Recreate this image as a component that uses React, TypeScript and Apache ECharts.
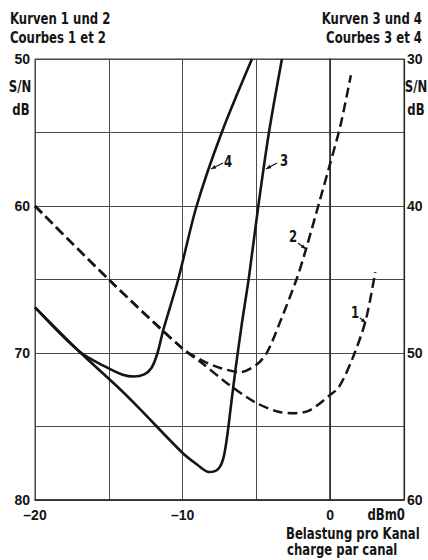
import React, { useEffect, useRef } from "react";
import * as echarts from "echarts";

// Axis ticks and labels
const xTicks = [-20, -15, -10, -5, 0, 5];
const xLabeled = [-20, -10, 0];
const leftLabeled = [50, 60, 70, 80];
const rightLabeled = [30, 40, 50, 60];

// Curves 1 and 2 (left axis, dB)
const curve1: [number, number][] = [
  [-20, 60], [-15, 65], [-10, 69.7], [-8.8, 70.6], [-6.8, 72.2], [-5, 73.4],
  [-3.5, 74.0], [-2.5, 74.1], [-1.4, 73.9], [0, 72.85], [0.6, 72.3],
  [1.5, 70.4], [2.4, 67.8], [3.05, 64.5],
];
const curve2: [number, number][] = [
  [-20, 60], [-15, 65], [-10, 69.7], [-8.5, 70.6], [-7.5, 71.0], [-6.1, 71.3],
  [-5, 70.8], [-4.3, 70.0], [-3.4, 67.9], [-2.25, 64.9],
  [-1.6, 62.8], [-0.7, 59.6], [0, 57.1], [0.7, 54.5], [1.4, 51.1],
];
// Curves 3 and 4 (right axis, dB)
const curve3: [number, number][] = [
  [-20, 46.9], [-17, 49.9], [-14.2, 52.5], [-12.9, 53.8], [-10, 56.8],
  [-9, 57.6], [-8.2, 58.1], [-7.6, 57.9], [-7.25, 57.2], [-7.0, 55.8],
  [-6.75, 53.8], [-6.4, 51.0], [-6.0, 48.1], [-5.5, 44.8], [-4.87, 40],
  [-4.15, 35], [-3.27, 30],
];
const curve4: [number, number][] = [
  [-20, 46.9], [-17, 49.9], [-15.1, 51.0], [-14, 51.5], [-13.3, 51.6],
  [-12.6, 51.45], [-12.1, 51.0], [-11.7, 50.0], [-11.3, 48.4], [-10.3, 45],
  [-9.05, 40], [-7.35, 35], [-5.3, 30],
];

const FONT = '"DejaVu Sans", sans-serif';
const AXFONT = '"Liberation Sans", Arial, sans-serif';
const INK = "#151515";
const SQUEEZE = 0.78;

function fmtX(v: number) {
  if (!xLabeled.includes(v)) return "";
  return v < 0 ? "\u2013" + Math.abs(v) : String(v);
}

function txt(text: string, x: number, y: number, align: string, size = 15) {
  return {
    type: "text", x, y, scaleX: SQUEEZE,
    style: { text, font: `bold ${size}px ${FONT}`, fill: INK, align, verticalAlign: "middle" },
  };
}

function leader(label: string, tx: number, ty: number, x1: number, y1: number, x2: number, y2: number) {
  const dx = x2 - x1, dy = y2 - y1;
  const len = Math.hypot(dx, dy);
  const ux = dx / len, uy = dy / len;
  const bx = x2 - ux * 5, by = y2 - uy * 5;
  const px = -uy * 2, py = ux * 2;
  return [
    txt(label, tx, ty, "center"),
    { type: "line", shape: { x1, y1, x2, y2 }, style: { stroke: INK, lineWidth: 1.2 } },
    {
      type: "polygon",
      shape: { points: [[x2, y2], [bx + px, by + py], [bx - px, by - py]] },
      style: { fill: INK },
    },
  ];
}

export default function App() {
  const ref = useRef<HTMLDivElement>(null);
  useEffect(() => {
    const chart = echarts.init(ref.current!, null, { renderer: "svg" });
    const axisLabelStyle = { fontFamily: AXFONT, fontWeight: "bold", fontSize: 14, color: INK };
    const splitLine = { show: true, lineStyle: { color: "#4a4a4a", width: 1 } };
    const solid = { color: INK, width: 2.6, type: "solid" as const };
    const dashed = { color: INK, width: 2.5, type: [10, 5] as any };
    const common = { type: "line", showSymbol: false, smooth: 0.3 };
    chart.setOption({
      animation: false,
      backgroundColor: "#fff",
      grid: { left: 35, right: 24, top: 59, bottom: 60, show: true, borderColor: "#3a3a3a", borderWidth: 1 },
      xAxis: {
        type: "value", min: xTicks[0], max: xTicks[xTicks.length - 1], interval: 5,
        axisLine: { show: true, lineStyle: { color: "#2a2a2a", width: 1.6 } },
        axisTick: { show: false },
        splitLine,
        axisLabel: { ...axisLabelStyle, margin: 8, formatter: (v: number) => fmtX(v) },
      },
      yAxis: [
        {
          type: "value", min: 50, max: 80, interval: 5, inverse: true, position: "left",
          axisLine: { show: true, lineStyle: { color: "#2a2a2a", width: 1.6 } },
          axisTick: { show: false },
          splitLine,
          axisLabel: { ...axisLabelStyle, margin: 5, formatter: (v: number) => (leftLabeled.includes(v) ? String(v) : "") },
        },
        {
          type: "value", min: 30, max: 60, interval: 5, inverse: true, position: "right",
          axisLine: { show: true, lineStyle: { color: "#2a2a2a", width: 1.2 } },
          axisTick: { show: false },
          splitLine: { show: false },
          axisLabel: { ...axisLabelStyle, margin: 3, formatter: (v: number) => (rightLabeled.includes(v) ? String(v) : "") },
        },
      ],
      series: [
        { ...common, name: "1", yAxisIndex: 0, data: curve1, lineStyle: dashed },
        { ...common, name: "2", yAxisIndex: 0, data: curve2, lineStyle: dashed },
        { ...common, name: "3", yAxisIndex: 1, data: curve3, lineStyle: solid },
        { ...common, name: "4", yAxisIndex: 1, data: curve4, lineStyle: solid },
      ],
      graphic: [
        txt("Kurven 1 und 2", 10, 19, "left"),
        txt("Courbes 1 et 2", 10, 38, "left"),
        txt("Kurven 3 und 4", 422, 19, "right"),
        txt("Courbes 3 et 4", 422, 38, "right"),
        txt("S/N", 20, 87, "center"),
        txt("dB", 21, 110, "center"),
        txt("S/N", 416, 87, "center"),
        txt("dB", 416, 110, "center"),
        txt("dBm0", 405, 515, "right"),
        txt("Belastung pro Kanal", 286, 534, "left"),
        txt("charge par canal", 287, 550, "left"),
        ...leader("4", 228, 162, 223, 163, 211, 169),
        ...leader("3", 284, 161, 277, 163, 266, 169),
        ...leader("2", 293, 237, 298, 243, 306, 249),
        ...leader("1", 355, 313, 360, 318, 366, 323),
      ],
    });
    return () => chart.dispose();
  }, []);
  return <div ref={ref} style={{ position: "fixed", left: 0, top: 0, width: 428, height: 560, background: "#fff" }} />;
}
